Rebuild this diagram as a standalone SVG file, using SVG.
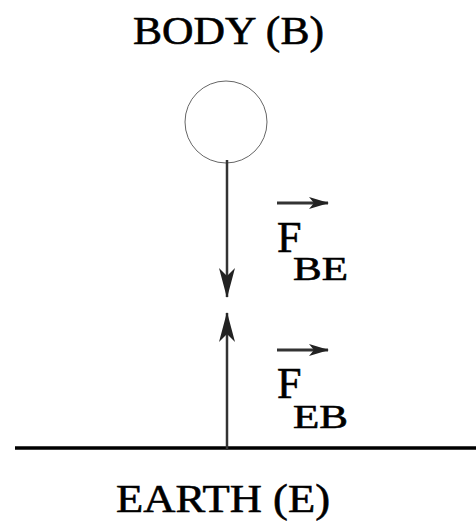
<svg xmlns="http://www.w3.org/2000/svg" width="476" height="521" viewBox="0 0 476 521">
<style>
.t{font-family:"Liberation Serif","Times New Roman",serif;fill:#000;stroke:#000;stroke-width:0.6}
.shaft{stroke:#333;stroke-width:2.5;fill:none}
.vec{stroke:#333;stroke-width:3;fill:none}
</style>
<defs>
<marker id="ah" viewBox="0 0 30 16" refX="29" refY="8" markerWidth="30" markerHeight="16" markerUnits="userSpaceOnUse" orient="auto">
<path d="M0,0 L30,8 L0,16 L8,8 Z" fill="#222"/>
</marker>
<marker id="vh" viewBox="0 0 20 12" refX="19" refY="6" markerWidth="20" markerHeight="12" markerUnits="userSpaceOnUse" orient="auto">
<path d="M0,0 L20,6 L0,12 L5,6 Z" fill="#222"/>
</marker>
</defs>
<rect width="476" height="521" fill="#fff"/>
<g id="body">
<circle cx="226" cy="122" r="41" fill="none" stroke="#666" stroke-width="1"/>
<text class="t" x="133" y="44" font-size="39" textLength="191" lengthAdjust="spacingAndGlyphs">BODY (B)</text>
</g>
<g id="earth">
<line x1="15" y1="448" x2="476" y2="448" stroke="#000" stroke-width="3.5"/>
<text class="t" x="116" y="512" font-size="40" textLength="214" lengthAdjust="spacingAndGlyphs">EARTH (E)</text>
</g>
<g id="connectors">
<line class="shaft" x1="227" y1="160" x2="227" y2="297" marker-end="url(#ah)"/>
<line class="shaft" x1="227" y1="450" x2="227" y2="313" marker-end="url(#ah)"/>
</g>
<g id="label-fbe">
<line class="vec" x1="277" y1="203" x2="328" y2="203" marker-end="url(#vh)"/>
<text class="t" x="277" y="252" font-size="44">F</text>
<text class="t" x="293" y="280" font-size="33" textLength="55" lengthAdjust="spacingAndGlyphs">BE</text>
</g>
<g id="label-feb">
<line class="vec" x1="277" y1="350" x2="328" y2="350" marker-end="url(#vh)"/>
<text class="t" x="277" y="398" font-size="44">F</text>
<text class="t" x="293" y="428" font-size="33" textLength="55" lengthAdjust="spacingAndGlyphs">EB</text>
</g>
</svg>
